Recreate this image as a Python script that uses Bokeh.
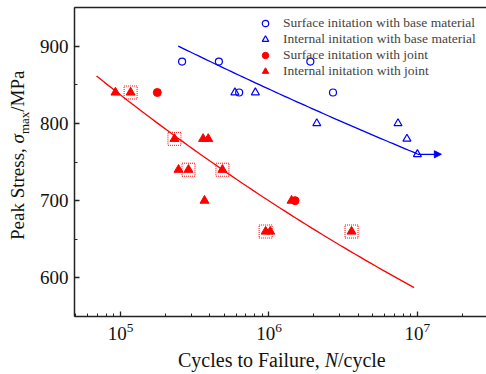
import numpy as np
from bokeh.plotting import figure
from bokeh.layouts import row, column
from bokeh.models import (Range1d, LinearAxis, FixedTicker, LogTicker, Legend,
                          LegendItem, Arrow, NormalHead, ColumnDataSource, Div)
from bokeh.embed import file_html
from bokeh.resources import INLINE

# ---------------- data ----------------
# Surface initiation with base material (open blue circles)
sb_N = [2.6e5, 4.6e5, 6.3e5, 1.9e6, 2.7e6]
sb_S = [880, 880, 840, 880, 840]
# Internal initiation with base material (open blue triangles)
ib_N = [5.9e5, 8.1e5, 2.1e6, 7.4e6, 8.5e6, 1.0e7]
ib_S = [840, 840, 800, 800, 780, 760]
# Surface initiation with joint (filled red circles)
sj_N = [1.77e5, 1.5e6]
sj_S = [840, 700]
# Internal initiation with joint (filled red triangles)
ij_N = [9.25e4, 1.17e5, 2.31e5, 3.6e5, 3.9e5, 2.46e5, 2.87e5, 4.86e5, 3.68e5,
        9.5e5, 1.02e6, 3.6e6, 1.42e6]
ij_S = [840, 840, 780, 780, 780, 740, 740, 740, 700, 660, 660, 660, 700]
# specimens marked with dotted boxes
boxed_N = [1.17e5, 2.31e5, 2.87e5, 4.86e5, 9.5e5, 3.6e6]
boxed_S = [840, 780, 740, 740, 660, 660]
# run-out
runout_N = [1.0e7]
runout_S = [760]
runout_to_N = [1.45e7]

# fitted S-N curves  S = A * N**b
base_A, base_b, base_N0, base_N1 = 1581.0, -0.0454, 2.45e5, 1.0e7
joint_A, joint_b, joint_N0, joint_N1 = 2047.0, -0.0777, 6.9e4, 9.5e6

y_ticks = [600, 700, 800, 900]
y_minor = [550, 650, 750, 850, 950]

legend_labels = ["Surface initation with base material",
                 "Internal initation with base material",
                 "Surface initation with joint",
                 "Internal initation with joint"]

FONT = "Liberation Serif"
BLUE = "#0000FF"
RED = "#FF0000"

YLAB_W = 30
FIG_W = 486 - YLAB_W
FIG_H = 350
XLAB_H = 374 - FIG_H

p = figure(width=FIG_W, height=FIG_H, x_axis_type="log",
           x_range=Range1d(4.9e4, 2.92e7), y_range=Range1d(550, 950),
           output_backend="svg", toolbar_location=None,
           min_border_left=74 - YLAB_W, min_border_right=0, min_border_top=7,
           min_border_bottom=FIG_H - 316, margin=0)
p.outline_line_color = None
p.xgrid.visible = False
p.ygrid.visible = False
p.background_fill_color = "white"
p.border_fill_color = "white"

xa = p.xaxis[0]
xa.ticker = LogTicker(num_minor_ticks=10)
ya = p.yaxis[0]
ya.ticker = FixedTicker(ticks=y_ticks, minor_ticks=y_minor)
for ax in (xa, ya):
    ax.axis_line_width = 1.5
    ax.axis_line_color = "#222222"
    ax.major_tick_in = 5
    ax.major_tick_out = 0
    ax.minor_tick_in = 3
    ax.minor_tick_out = 0
    ax.major_tick_line_color = "#222222"
    ax.minor_tick_line_color = "#222222"
    ax.major_tick_line_width = 1.3
    ax.major_label_text_font = FONT
    ax.major_label_text_font_size = "19px"
    ax.major_label_text_color = "#111111"
xa.major_label_standoff = 6
ya.major_label_standoff = 6

top = LinearAxis(ticker=FixedTicker(ticks=[]), major_label_text_font_size="0px",
                 major_label_standoff=0, major_tick_in=0, major_tick_out=0,
                 minor_tick_in=0, minor_tick_out=0,
                 axis_line_width=1.5, axis_line_color="#222222")
p.add_layout(top, "above")

# fitted curves
nb = np.logspace(np.log10(base_N0), np.log10(base_N1), 60)
p.line(nb, base_A * nb ** base_b, line_color=BLUE, line_width=1.3)
nj = np.logspace(np.log10(joint_N0), np.log10(joint_N1), 60)
p.line(nj, joint_A * nj ** joint_b, line_color=RED, line_width=1.3)

# run-out arrow
rsrc = ColumnDataSource(dict(x0=runout_N, y0=runout_S, x1=runout_to_N, y1=runout_S))
p.add_layout(Arrow(source=rsrc, x_start="x0", y_start="y0", x_end="x1", y_end="y1",
                   line_color=BLUE, line_width=1.3,
                   end=NormalHead(size=7, fill_color=BLUE, line_color=BLUE)))

# boxes
p.scatter(boxed_N, boxed_S, marker="square", size=13, fill_color=None,
          line_color=RED, line_dash="1 1", line_width=1)

r1 = p.scatter(sb_N, sb_S, marker="circle", size=7, fill_color=None,
               line_color=BLUE, line_width=1.2)
r2 = p.scatter(ib_N, ib_S, marker="triangle", size=8, fill_color=None,
               line_color=BLUE, line_width=1.2)
r3 = p.scatter(sj_N, sj_S, marker="circle", size=8, fill_color=RED, line_color=RED)
r4 = p.scatter(ij_N, ij_S, marker="triangle", size=9, fill_color=RED, line_color=RED)

legend = Legend(items=[LegendItem(label=legend_labels[i], renderers=[r])
                       for i, r in enumerate([r1, r2, r3, r4])],
                location=(183, 237), padding=0, margin=0, spacing=0,
                glyph_width=16, glyph_height=16, label_height=16,
                label_standoff=10, border_line_color=None,
                background_fill_alpha=0,
                label_text_font=FONT, label_text_font_size="13.5px")
p.add_layout(legend)

# axis titles as HTML (italic N, subscript max)
xlab = Div(width=FIG_W, height=XLAB_H, margin=0,
           text=('<div style="margin-left:%dpx; white-space:nowrap; '
                 'font-family:\'Liberation Serif\'; font-size:20px; line-height:20px; '
                 'color:#111;">Cycles to Failure, <i>N</i>/cycle</div>') % (178 - YLAB_W))
ylab = Div(width=YLAB_W, height=374, margin=0,
           text=('<div style="margin-top:240px; margin-left:8px; width:0; height:0; '
                 'white-space:nowrap; transform-origin:0 0; transform:rotate(-90deg); '
                 'font-family:\'Liberation Serif\'; font-size:19px; line-height:20px; '
                 'color:#111;">Peak Stress, <i>&sigma;</i><sub style="font-size:13px;">max</sub>/MPa</div>'))

layout = row(ylab, column(p, xlab, spacing=0, margin=0), spacing=0, margin=0)

open("out.html", "w").write(file_html(layout, INLINE))
